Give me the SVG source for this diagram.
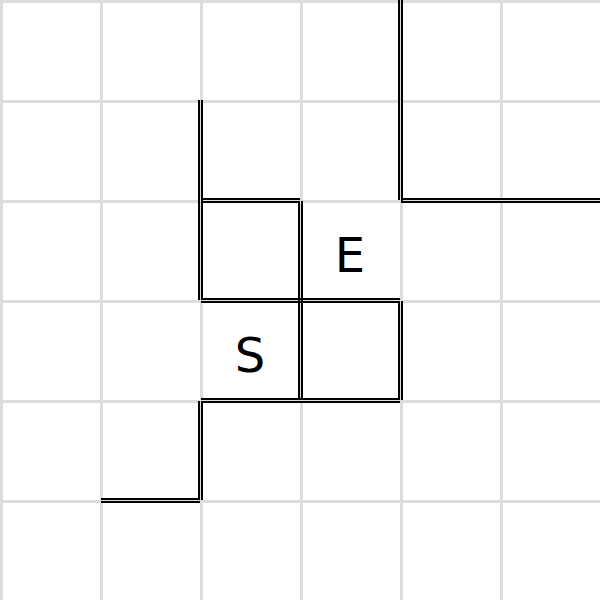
<svg xmlns="http://www.w3.org/2000/svg" width="600" height="600" viewBox="0 0 600 600">
<style>
.grid line{stroke:#dcdcdc;stroke-width:3}
.wall{stroke:#000;stroke-width:2;fill:none;stroke-linecap:square}
.lbl{font-family:"DejaVu Sans",sans-serif;font-size:48px;fill:#000;text-anchor:middle}
</style>
<rect width="600" height="600" fill="#fff"/>
<g class="grid">
<line x1="1.5" y1="0" x2="1.5" y2="600"/>
<line x1="101.5" y1="0" x2="101.5" y2="600"/>
<line x1="201.5" y1="0" x2="201.5" y2="600"/>
<line x1="301.5" y1="0" x2="301.5" y2="600"/>
<line x1="401.5" y1="0" x2="401.5" y2="600"/>
<line x1="501.5" y1="0" x2="501.5" y2="600"/>
<line x1="0" y1="1.5" x2="600" y2="1.5"/>
<line x1="0" y1="101.5" x2="600" y2="101.5"/>
<line x1="0" y1="201.5" x2="600" y2="201.5"/>
<line x1="0" y1="301.5" x2="600" y2="301.5"/>
<line x1="0" y1="401.5" x2="600" y2="401.5"/>
<line x1="0" y1="501.5" x2="600" y2="501.5"/>
</g>
<g id="walls" class="wall">
<path d="M399,0V199 M402,0V202"/>
<path d="M402,199H599 M402,202H599"/>
<path d="M199,101V299 M202,101V299"/>
<path d="M202,199H299 M202,202H299"/>
<path d="M202,299H399 M202,302H399"/>
<path d="M299,202V399 M302,202V399"/>
<path d="M399,302V399 M402,302V399"/>
<path d="M202,399H399 M202,402H399"/>
<path d="M199,402V499 M202,402V499"/>
<path d="M102,499H199 M102,502H199"/>
</g>
<g id="start"><text class="lbl" x="250" y="372">S</text></g>
<g id="end"><text class="lbl" x="350" y="272">E</text></g>
</svg>
